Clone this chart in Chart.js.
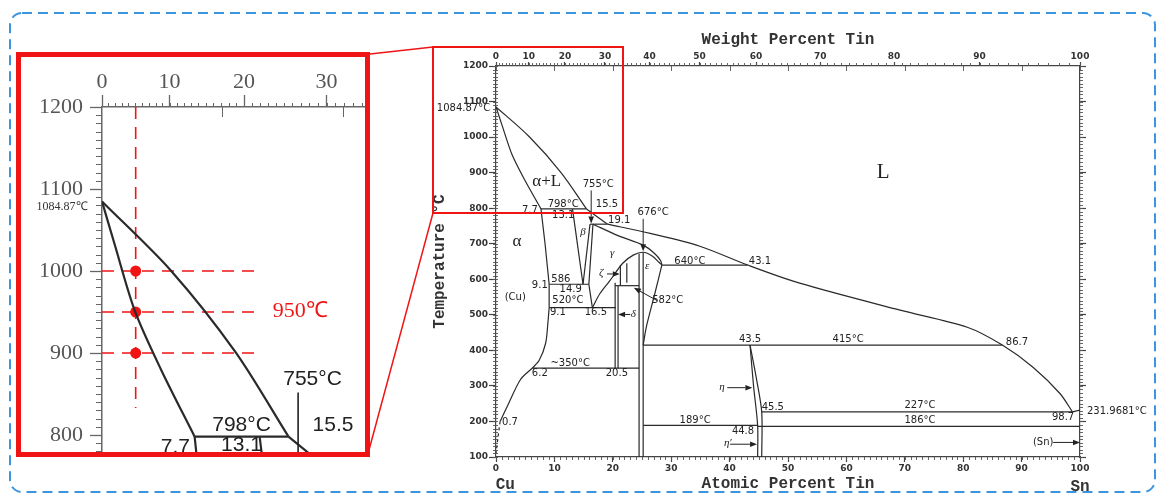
<!DOCTYPE html>
<html lang="en">
<head>
<meta charset="UTF-8" />
<title>Cu-Sn Phase Diagram</title>
<script src="https://cdn.jsdelivr.net/npm/chart.js"></script>
<style>
  html, body { margin: 0; padding: 0; background: #fff; }
  body { width: 1159px; height: 495px; position: relative; overflow: hidden; }
  #main { position: absolute; left: 380px; top: 0; }
  #zoomBox { position: absolute; left: 16px; top: 52px; width: 354px; height: 405px;
             border: 5px solid #f01414; box-sizing: border-box; background: #fff; overflow: hidden; }
  #inset { position: absolute; left: 0; top: 0; }
  #deco { position: absolute; left: 0; top: 0; pointer-events: none; }
</style>
</head>
<body>
<canvas id="main" width="779" height="495"></canvas>
<div id="zoomBox"><canvas id="inset" width="344" height="395"></canvas></div>
<svg id="deco" width="1159" height="495">
  <rect x="10" y="13" width="1145" height="479" rx="12" fill="none" stroke="#3d95e0" stroke-width="2" stroke-dasharray="10 6"/>
  <rect x="433" y="47" width="190" height="166" fill="none" stroke="#f01414" stroke-width="2"/>
  <line x1="370" y1="54" x2="433" y2="47" stroke="#f01414" stroke-width="1.5"/>
  <line x1="369" y1="450" x2="433" y2="213" stroke="#f01414" stroke-width="1.5"/>
</svg>

<script>
// ---- axis ticks ----
const tempTicks = [100, 200, 300, 400, 500, 600, 700, 800, 900, 1000, 1100, 1200];
const atomicTicks = [0, 10, 20, 30, 40, 50, 60, 70, 80, 90, 100];
const weightTicks = [0, 10, 20, 30, 40, 50, 60, 70, 80, 90, 100];
const insetTempTicks = [800, 900, 1000, 1100, 1200];
const insetWeightTicks = [0, 10, 20, 30];

// ---- phase boundaries, [atomic % Sn, °C] ----
const liquidusCu   = [[0, 1084.87], [5.7, 1001], [11.1, 901], [15.5, 798]];
const solidusCu    = [[0, 1084.87], [1.0, 1035], [2.74, 951], [4.9, 880], [7.7, 798]];
const liquidusBeta = [[15.5, 798], [19.1, 755]];
const liquidusSn   = [[19.1, 755], [26.4, 729], [34.9, 693], [43.1, 640], [52, 589], [69.2, 513], [80.7, 465], [86.7, 415], [92, 352], [96.6, 278], [98.7, 227]];
const liquidusEnd  = [[98.7, 227], [100, 231.9681]];
const alphaHigh    = [[7.7, 798], [8.4, 700], [9.1, 586], [9.1, 520]];
const alphaLow     = [[9.1, 520], [8.9, 480], [8.5, 420], [7.4, 372], [6.2, 350], [4.2, 318], [2.0, 245], [0.7, 200]];
const alphaTail    = [[0.7, 200], [0.3, 150], [0, 110]];
const betaLeft     = [[13.1, 798], [14.9, 586]];
const betaRight    = [[16.1, 755], [14.9, 586]];
const gammaLeft    = [[16.6, 755], [15.9, 586], [16.5, 520]];
const gammaTop     = [[16.6, 755], [21, 722], [25.2, 696], [27.2, 672], [28.2, 652], [28.4, 640]];
const gammaDome    = [[16.5, 520], [17.8, 560], [19.5, 596], [21.7, 645], [23.5, 668], [25.2, 676], [26.8, 665], [27.9, 648], [28.4, 640]];
const zetaLeft     = [[21.3, 640], [21.3, 582]];
const zetaRight    = [[22.4, 645], [22.4, 590]];
const deltaLeft    = [[20.4, 590], [20.4, 350]];
const deltaRight   = [[20.9, 582], [20.9, 350]];
const epsLeft      = [[24.5, 672], [24.5, 100]];
const epsMid       = [[25.2, 676], [25.2, 100]];
const epsRight     = [[28.4, 640], [27.2, 560], [25.8, 470], [25.2, 415]];
const etaLeft      = [[43.5, 415], [44.1, 300], [44.8, 189], [44.8, 100]];
const etaRight     = [[43.5, 415], [44.6, 320], [45.5, 227], [45.5, 100]];
const iso798 = [[7.7, 798], [15.5, 798]];
const iso755 = [[16.1, 755], [19.1, 755]];
const iso640 = [[28.4, 640], [43.1, 640]];
const iso586 = [[9.1, 586], [15.9, 586]];
const iso582 = [[20.4, 582], [24.5, 582]];
const iso520 = [[9.1, 520], [20.5, 520]];
const iso415 = [[25.2, 415], [86.7, 415]];
const iso350 = [[6.2, 350], [24.5, 350]];
const iso227 = [[45.5, 227], [98.7, 227]];
const iso189 = [[25.2, 189], [44.8, 189]];
const iso186 = [[44.8, 186], [100, 186]];

// 5 wt% alloy read at three temperatures
const alloyAt = 2.8;
const alloyTemps = [1000, 950, 900];

// ---- labels, [text, atomic % Sn, °C, font, align] ----
const mainNotes = [
  ['α+L', 8.7, 874, 'phase'], ['L', 66.3, 901, 'big'], ['α', 3.6, 706, 'phase'], ['(Cu)', 3.3, 550, 'num'],
  ['798°C', 11.5, 812, 'num'], ['755°C', 17.5, 868, 'num'], ['7.7', 5.8, 795, 'num'], ['13.1', 11.5, 781, 'num'],
  ['15.5', 19.0, 812, 'num'], ['19.1', 21.1, 767, 'num'], ['676°C', 26.9, 787, 'num'],
  ['β', 14.9, 733, 'greek'], ['γ', 19.9, 674, 'greek'], ['ε', 25.9, 637, 'greek'], ['ζ', 18.0, 617, 'greek'],
  ['9.1', 7.5, 584, 'num'], ['586', 11.1, 600, 'num'], ['14.9', 12.8, 572, 'num'], ['520°C', 12.3, 541, 'num'],
  ['582°C', 29.4, 541, 'num'], ['9.1', 10.6, 507, 'num'], ['16.5', 17.1, 507, 'num'], ['δ', 23.5, 501, 'greek'],
  ['640°C', 33.2, 651, 'num'], ['43.1', 45.2, 649, 'num'], ['43.5', 43.5, 431, 'num'], ['415°C', 60.3, 431, 'num'],
  ['86.7', 89.2, 423, 'num'], ['η', 38.7, 296, 'greek'], ['45.5', 47.4, 240, 'num'], ['227°C', 72.6, 245, 'num'],
  ['231.9681°C', 101.2, 229, 'num', 'left'], ['186°C', 72.6, 203, 'num'], ['98.7', 97.1, 211, 'num'],
  ['44.8', 42.3, 172, 'num'], ['η′', 39.7, 138, 'greek'], ['(Sn)', 93.7, 141, 'num'], ['~350°C', 12.7, 364, 'num'],
  ['6.2', 7.5, 335, 'num'], ['20.5', 20.7, 335, 'num'], ['0.7', 2.4, 197, 'num'], ['189°C', 34.1, 203, 'num'],
  ['1084.87°C', -1.0, 1080, 'num', 'right'], ['Cu', 1.6, 22, 'axis'], ['Sn', 100, 17, 'axis']
];
const insetNotes = [
  ['755°C', 17.5, 868, 'num'], ['798°C', 11.6, 812, 'num'], ['15.5', 19.2, 812, 'num'],
  ['7.7', 6.1, 785, 'num'], ['13.1', 11.6, 787, 'num'], ['1084.87℃', -1.2, 1078, 'small', 'right'],
  ['950℃', 14.2, 951, 'red', 'left']
];
const mainArrows = [
  [[16.3, 850], [16.3, 757]], [[25.2, 770], [25.2, 679]], [[19.0, 615], [21.2, 615]], [[27.6, 540], [23.6, 576]],
  [[23.0, 501], [20.9, 501]], [[39.6, 295], [43.9, 295]], [[40.1, 136], [44.7, 136]], [[95.4, 141], [100, 141]]
];
const insetArrows = [[[16.3, 852], [16.3, 757]]];

// ---- helpers ----
const wtToAt = w => 100 * (w / 118.71) / (w / 118.71 + (100 - w) / 63.546);
const pts = arr => arr.map(([x, y]) => ({ x, y }));
const plain = v => String(v);
const curved = [liquidusCu, solidusCu, liquidusSn, alphaLow, gammaTop, gammaDome, epsRight, etaLeft, etaRight];
const boundaries = [liquidusCu, solidusCu, liquidusBeta, liquidusSn, liquidusEnd, alphaHigh, alphaLow, betaLeft, betaRight,
  gammaLeft, gammaTop, gammaDome, zetaLeft, zetaRight, deltaLeft, deltaRight, epsLeft, epsMid, epsRight, etaLeft, etaRight,
  iso798, iso755, iso640, iso586, iso582, iso520, iso415, iso350, iso227, iso189, iso186];

function phaseDatasets(width) {
  const sets = boundaries.map(b => ({
    data: pts(b), showLine: true, pointRadius: 0, borderColor: '#2a2a2a', borderWidth: width,
    tension: curved.includes(b) ? 0.3 : 0
  }));
  sets.push({ data: pts(alphaTail), showLine: true, pointRadius: 0, borderColor: '#2a2a2a',
              borderWidth: width, borderDash: [3, 3] });
  return sets;
}

function range(a, b, step) { const out = []; for (let v = a; v <= b + 1e-9; v += step) out.push(v); return out; }

// vertical axes keep the plot edge fixed, labels may hang over it
const noEdgePadding = s => { s.paddingTop = 0; s.paddingBottom = 0; };

// small ticks between the labelled ones
const minorTicks = {
  id: 'minorTicks',
  afterDraw(chart, args, opts) {
    const { ctx, chartArea: ca } = chart;
    ctx.save();
    ctx.strokeStyle = opts.color;
    ctx.lineWidth = opts.width;
    opts.marks.forEach(m => {
      const s = chart.scales[m.scale];
      m.values.forEach(v => {
        const p = Math.round(s.getPixelForValue(v)) + 0.5;
        ctx.beginPath();
        if (s.isHorizontal()) {
          const y0 = m.side === 'top' ? ca.top : ca.bottom;
          ctx.moveTo(p, y0 + m.from); ctx.lineTo(p, y0 + m.to);
        } else {
          const x0 = m.side === 'left' ? ca.left : ca.right;
          ctx.moveTo(x0 + m.from, p); ctx.lineTo(x0 + m.to, p);
        }
        ctx.stroke();
      });
    });
    ctx.restore();
  }
};

// text labels and arrows in data units
const annotations = {
  id: 'annotations',
  afterDraw(chart, args, opts) {
    const { ctx, scales: { x, y } } = chart;
    ctx.save();
    ctx.textBaseline = 'middle';
    opts.notes.forEach(([t, vx, vy, f, a]) => {
      ctx.font = opts.fonts[f];
      ctx.fillStyle = opts.colors[f] || '#222';
      ctx.textAlign = a || 'center';
      ctx.fillText(t, x.getPixelForValue(vx), y.getPixelForValue(vy));
    });
    ctx.strokeStyle = '#222';
    ctx.fillStyle = '#222';
    ctx.lineWidth = opts.arrowWidth;
    opts.arrows.forEach(([[x1, y1], [x2, y2]]) => {
      const ax = x.getPixelForValue(x1), ay = y.getPixelForValue(y1);
      const bx = x.getPixelForValue(x2), by = y.getPixelForValue(y2);
      const ang = Math.atan2(by - ay, bx - ax), L = opts.head, W = opts.head * 0.4;
      ctx.beginPath(); ctx.moveTo(ax, ay); ctx.lineTo(bx - L * Math.cos(ang), by - L * Math.sin(ang)); ctx.stroke();
      ctx.beginPath();
      ctx.moveTo(bx, by);
      ctx.lineTo(bx - L * Math.cos(ang) - W * Math.sin(ang), by - L * Math.sin(ang) + W * Math.cos(ang));
      ctx.lineTo(bx - L * Math.cos(ang) + W * Math.sin(ang), by - L * Math.sin(ang) - W * Math.cos(ang));
      ctx.closePath(); ctx.fill();
    });
    ctx.restore();
  }
};

Chart.register(minorTicks, annotations);

const tickFont = { family: 'DejaVu Sans', size: 9, weight: 'bold' };
const titleFont = { family: 'Liberation Mono', size: 16, weight: 'bold' };
const axisLine = { display: true, color: '#444', width: 1.2 };
const noGrid = { drawOnChartArea: false, color: '#444', tickColor: '#444', tickLength: 6, tickWidth: 1.2 };

// ---- main diagram ----
new Chart(document.getElementById('main'), {
  type: 'scatter',
  data: { datasets: phaseDatasets(1.2) },
  options: {
    responsive: false,
    animation: false,
    layout: { padding: 0, autoPadding: false },
    plugins: {
      legend: { display: false },
      tooltip: { enabled: false },
      minorTicks: {
        color: '#555', width: 0.9,
        marks: [
          { scale: 'y', side: 'left', from: -3, to: 2, values: range(100, 1200, 10) },
          { scale: 'y', side: 'right', from: 0, to: 3, values: range(100, 1200, 10) },
          { scale: 'x', side: 'bottom', from: 0, to: 3, values: range(0, 100, 1) },
          { scale: 'x', side: 'top', from: -3, to: 0, values: range(0, 100, 1).map(wtToAt) },
          { scale: 'x', side: 'top', from: 0, to: 5, values: atomicTicks }
        ]
      },
      annotations: {
        notes: mainNotes, arrows: mainArrows, arrowWidth: 1, head: 7,
        fonts: { num: '10px "DejaVu Sans"', greek: 'italic 11px "Liberation Serif"', phase: '17px "Liberation Serif"',
                 big: '21px "Liberation Serif"', axis: 'bold 16px "Liberation Mono"' },
        colors: { axis: '#333' }
      }
    },
    scales: {
      x: {
        type: 'linear', position: 'bottom', min: 0, max: 100,
        afterBuildTicks: s => { s.ticks = atomicTicks.map(v => ({ value: v })); },
        afterFit: s => { s.height = 38; },
        ticks: { font: tickFont, color: '#333', padding: 1, maxRotation: 0, autoSkip: false, callback: plain },
        grid: { ...noGrid, tickLength: 5 },
        border: axisLine,
        title: { display: true, text: 'Atomic Percent Tin', font: titleFont, color: '#333', padding: { top: 0, bottom: 1.4 } }
      },
      x2: {
        type: 'linear', position: 'top', min: 0, max: 100,
        afterBuildTicks: s => { s.ticks = weightTicks.map(w => ({ value: wtToAt(w) })); },
        afterFit: s => { s.height = 66; },
        ticks: { font: tickFont, color: '#333', padding: 0, maxRotation: 0, autoSkip: false,
                 callback: (v, i) => String(weightTicks[i]) },
        grid: { ...noGrid, tickLength: 4 },
        border: axisLine,
        title: { display: true, text: 'Weight Percent Tin', font: titleFont, color: '#333', padding: { top: 30.4, bottom: 0 } }
      },
      y: {
        type: 'linear', position: 'left', min: 100, max: 1200,
        afterBuildTicks: s => { s.ticks = tempTicks.map(v => ({ value: v })); },
        afterFit: s => { s.width = 116; noEdgePadding(s); },
        ticks: { font: tickFont, color: '#333', padding: 1, callback: plain },
        grid: { ...noGrid, tickLength: 7 },
        border: axisLine,
        title: { display: true, text: 'Temperature °C', font: titleFont, color: '#333', padding: { top: 50.4, bottom: 0 } }
      },
      y2: {
        type: 'linear', position: 'right', min: 100, max: 1200,
        afterBuildTicks: s => { s.ticks = tempTicks.map(v => ({ value: v })); },
        afterFit: s => { s.width = 79; noEdgePadding(s); },
        ticks: { display: false },
        grid: { ...noGrid, tickLength: 6 },
        border: axisLine
      }
    }
  }
});

// ---- enlarged copper corner ----
const insetSets = phaseDatasets(2.2);
alloyTemps.forEach(t => insetSets.push({
  data: pts([[0, t], [13.1, t]]), showLine: true, pointRadius: 0,
  borderColor: '#f01414', borderWidth: 1.6, borderDash: [12, 8]
}));
insetSets.push({ data: pts([[alloyAt, 1200], [alloyAt, 833]]), showLine: true, pointRadius: 0,
                 borderColor: '#f01414', borderWidth: 1.6, borderDash: [12, 8] });
insetSets.push({ data: alloyTemps.map(t => ({ x: alloyAt, y: t })), pointRadius: 5.5,
                 pointBackgroundColor: '#f01414', pointBorderWidth: 0 });

const insetFont = { family: 'Liberation Serif', size: 22 };
new Chart(document.getElementById('inset'), {
  type: 'scatter',
  data: { datasets: insetSets },
  options: {
    responsive: false,
    animation: false,
    layout: { padding: 0, autoPadding: false },
    plugins: {
      legend: { display: false },
      tooltip: { enabled: false },
      minorTicks: {
        color: '#666', width: 1,
        marks: [
          { scale: 'y', side: 'left', from: -6, to: 0, values: range(780, 1200, 10) },
          { scale: 'x', side: 'top', from: -4, to: 0, values: range(0, 40, 1).map(wtToAt) },
          { scale: 'x', side: 'top', from: 0, to: 10, values: [10, 20] }
        ]
      },
      annotations: {
        notes: insetNotes, arrows: insetArrows, arrowWidth: 1.6, head: 12,
        fonts: { num: '21px "Liberation Sans"', small: '12px "Liberation Serif"', red: '22px "Liberation Serif"' },
        colors: { red: '#f01414', small: '#333' }
      }
    },
    scales: {
      x: {
        type: 'linear', position: 'top', min: 0, max: 21.86,
        afterBuildTicks: s => { s.ticks = insetWeightTicks.map(w => ({ value: wtToAt(w) })); },
        afterFit: s => { s.height = 50; s.paddingLeft = 0; s.paddingRight = 0; },
        ticks: { font: insetFont, color: '#555', padding: 0, maxRotation: 0, autoSkip: false,
                 callback: (v, i) => String(insetWeightTicks[i]) },
        grid: { drawOnChartArea: false, color: '#666', tickColor: '#666', tickLength: 12, tickWidth: 1.3 },
        border: { display: true, color: '#666', width: 1.5 }
      },
      y: {
        type: 'linear', position: 'left', min: 779.3, max: 1200,
        afterBuildTicks: s => { s.ticks = insetTempTicks.map(v => ({ value: v })); },
        afterFit: s => { s.width = 81; noEdgePadding(s); },
        ticks: { font: insetFont, color: '#555', padding: 7, callback: plain },
        grid: { drawOnChartArea: false, color: '#666', tickColor: '#666', tickLength: 12, tickWidth: 1.3 },
        border: { display: true, color: '#666', width: 1.5 }
      }
    }
  }
});
</script>
</body>
</html>
